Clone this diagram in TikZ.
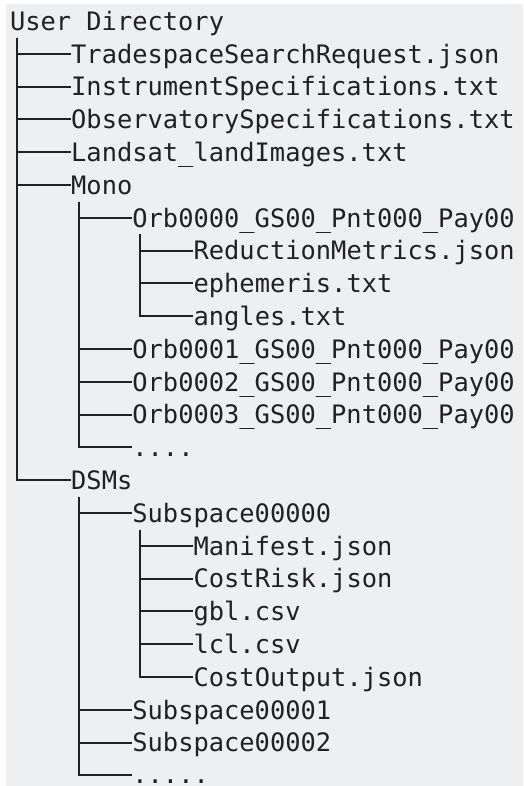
\documentclass[tikz,border=0pt]{standalone}
\usepackage{fontspec}
\newfontfamily\dirfont{DejaVu Sans Mono}
\definecolor{pagegray}{RGB}{238,239,241}
\definecolor{inkgray}{RGB}{33,33,35}
\tikzset{
  entry/.style={font=\dirfont\fontsize{25.4}{30}\selectfont,text=inkgray,anchor=west,inner sep=0pt,text height=18.5pt,text depth=0pt},
  branch/.style={draw=inkgray,line width=2pt},
}

\begin{document}
\begin{tikzpicture}[x=1pt,y=-1pt]
\fill[white] (0,0) rectangle (523,786);
\fill[pagegray] (6,4) rectangle (523,786);
\useasboundingbox (0,0) rectangle (523,786);

\node[entry] (root) at (9.8,21) {User Directory};
\node[entry] (tsr) at (71.0,53.8) {TradespaceSearchRequest.json};
\node[entry] (instr) at (71.0,86.6) {InstrumentSpecifications.txt};
\node[entry] (obs) at (71.0,119.4) {ObservatorySpecifications.txt};
\node[entry] (landsat) at (71.0,152.2) {Landsat\_landImages.txt};
\node[entry] (mono) at (71.0,185) {Mono};
\node[entry] (orbA) at (132.2,217.8) {Orb0000\_GS00\_Pnt000\_Pay00};
\node[entry] (reduc) at (193.4,250.6) {ReductionMetrics.json};
\node[entry] (ephem) at (193.4,283.4) {ephemeris.txt};
\node[entry] (angles) at (193.4,316.2) {angles.txt};
\node[entry] (orbB) at (132.2,349) {Orb0001\_GS00\_Pnt000\_Pay00};
\node[entry] (orbC) at (132.2,381.8) {Orb0002\_GS00\_Pnt000\_Pay00};
\node[entry] (orbD) at (132.2,414.6) {Orb0003\_GS00\_Pnt000\_Pay00};
\node[entry] (monomore) at (132.2,447.4) {....};
\node[entry] (dsms) at (71.0,480.2) {DSMs};
\node[entry] (subA) at (132.2,513) {Subspace00000};
\node[entry] (manifest) at (193.4,545.8) {Manifest.json};
\node[entry] (costrisk) at (193.4,578.6) {CostRisk.json};
\node[entry] (gbl) at (193.4,611.4) {gbl.csv};
\node[entry] (lcl) at (193.4,644.2) {lcl.csv};
\node[entry] (costout) at (193.4,677) {CostOutput.json};
\node[entry] (subB) at (132.2,709.8) {Subspace00001};
\node[entry] (subC) at (132.2,742.6) {Subspace00002};
\node[entry] (dsmsmore) at (132.2,774.6) {.....};

% branches of the tree
\foreach \c in {tsr,instr,obs,landsat,mono,dsms}
  \draw[branch] ([xshift=7.65pt,yshift=-7.15pt]root.south west) |- (\c.west);
\foreach \c in {orbA,orbB,orbC,orbD,monomore}
  \draw[branch] ([xshift=7.65pt,yshift=-7.15pt]mono.south west) |- (\c.west);
\foreach \c in {reduc,ephem,angles}
  \draw[branch] ([xshift=7.65pt,yshift=-7.15pt]orbA.south west) |- (\c.west);
\foreach \c in {subA,subB,subC,dsmsmore}
  \draw[branch] ([xshift=7.65pt,yshift=-7.15pt]dsms.south west) |- (\c.west);
\foreach \c in {manifest,costrisk,gbl,lcl,costout}
  \draw[branch] ([xshift=7.65pt,yshift=-7.15pt]subA.south west) |- (\c.west);

\end{tikzpicture}
\end{document}
